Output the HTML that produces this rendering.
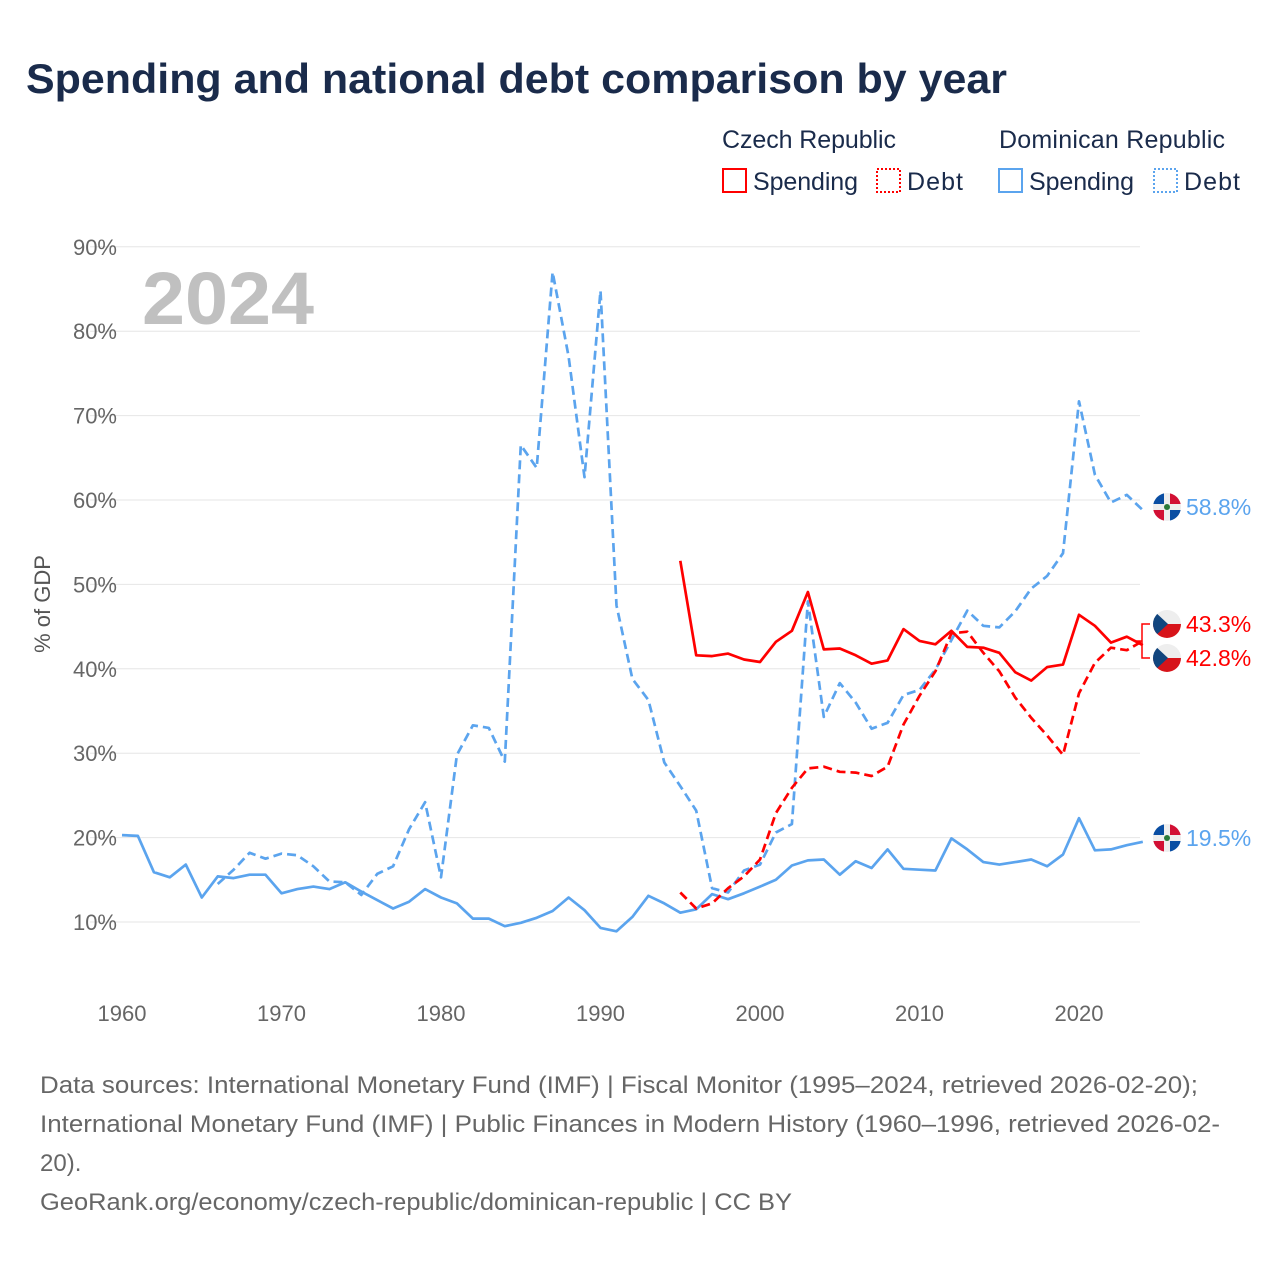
<!DOCTYPE html>
<html><head><meta charset="utf-8"><style>
body{margin:0;background:#fff;font-family:"Liberation Sans",sans-serif}
#wrap{position:relative;width:1280px;height:1280px;overflow:hidden}
</style></head><body>
<div id="wrap">
<svg id="chart" width="1280" height="1280">
<text x="26" y="93" font-size="42" font-weight="bold" fill="#1a2b4b" textLength="981" lengthAdjust="spacingAndGlyphs">Spending and national debt comparison by year</text>
<g font-size="25" fill="#1a2b4b">
<text x="722" y="148" textLength="174">Czech Republic</text>
<text x="999" y="148" textLength="226">Dominican Republic</text>
<g><rect x="723" y="169" width="23" height="23" fill="none" stroke="#f00" stroke-width="2"/><text x="753" y="190" textLength="105">Spending</text></g>
<g><rect x="877" y="169" width="23" height="23" fill="none" stroke="#f00" stroke-width="2" stroke-dasharray="2,2"/><text x="907" y="190" textLength="56">Debt</text></g>
<g><rect x="999" y="169" width="23" height="23" fill="none" stroke="#5ba4ee" stroke-width="2"/><text x="1029" y="190" textLength="105">Spending</text></g>
<g><rect x="1154" y="169" width="23" height="23" fill="none" stroke="#5ba4ee" stroke-width="2" stroke-dasharray="2,2"/><text x="1184" y="190" textLength="56">Debt</text></g>
</g>
<text x="142" y="324" font-size="74" font-weight="bold" fill="#c0c0c0" textLength="172" lengthAdjust="spacingAndGlyphs">2024</text>
<text transform="translate(50,604) rotate(-90)" text-anchor="middle" font-size="22" fill="#555">% of GDP</text>
<g id="grid"></g><g id="series"></g><g id="labels"></g>
<g font-size="24" fill="#666">
<text x="40" y="1093" textLength="1158" lengthAdjust="spacingAndGlyphs">Data sources: International Monetary Fund (IMF) | Fiscal Monitor (1995–2024, retrieved 2026-02-20);</text>
<text x="40" y="1132" textLength="1180" lengthAdjust="spacingAndGlyphs">International Monetary Fund (IMF) | Public Finances in Modern History (1960–1996, retrieved 2026-02-</text>
<text x="40" y="1171">20).</text>
<text x="40" y="1210" textLength="752" lengthAdjust="spacingAndGlyphs">GeoRank.org/economy/czech-republic/dominican-republic | CC BY</text>
</g>
</svg></div>
<script>
const yTicks=[10,20,30,40,50,60,70,80,90];
const xTicks=[1960,1970,1980,1990,2000,2010,2020];
const drSpendStart=1960;
const drSpend=[20.3,20.2,15.9,15.3,16.8,12.9,15.4,15.2,15.6,15.6,13.4,13.9,14.2,13.9,14.7,13.6,12.6,11.6,12.4,13.9,12.9,12.2,10.4,10.4,9.5,9.9,10.5,11.3,12.9,11.4,9.3,8.9,10.6,13.1,12.2,11.1,11.5,13.3,12.7,13.4,14.2,15.0,16.7,17.3,17.4,15.6,17.2,16.4,18.6,16.3,16.2,16.1,19.9,18.6,17.1,16.8,17.1,17.4,16.6,18.0,22.3,18.5,18.6,19.1,19.5];
const drDebtStart=1966;
const drDebt=[14.5,16.2,18.2,17.5,18.1,17.9,16.6,14.8,14.7,13.2,15.7,16.6,21.0,24.2,15.3,29.8,33.3,33.0,29.0,66.5,63.8,87.0,77.0,62.7,84.8,47.5,38.8,36.3,28.9,26.1,23.2,14.0,13.5,16.1,16.8,20.6,21.6,48.0,34.3,38.3,36.0,32.9,33.6,36.9,37.5,39.9,43.4,46.9,45.1,44.9,46.8,49.5,51.0,53.7,71.7,63.0,59.7,60.6,58.8];
const czStart=1995;
const czSpend=[52.8,41.6,41.5,41.8,41.1,40.8,43.2,44.5,49.1,42.3,42.4,41.6,40.6,41.0,44.7,43.3,42.9,44.5,42.6,42.5,41.9,39.6,38.6,40.2,40.5,46.4,45.1,43.1,43.8,42.8];
const czDebt=[13.5,11.6,12.2,14.0,15.4,17.4,22.9,25.9,28.2,28.4,27.8,27.7,27.3,28.4,33.4,36.8,39.7,44.2,44.4,41.9,39.7,36.6,34.2,32.1,29.8,37.1,40.7,42.5,42.2,43.3];
const NS='http://www.w3.org/2000/svg';
const X=yr=>122+(yr-1960)*(957/60);
const Y=v=>922-(v-10)*8.44;
function mk(tag,attrs,parent){const e=document.createElementNS(NS,tag);for(const k in attrs)e.setAttribute(k,attrs[k]);parent.appendChild(e);return e;}
const grid=document.getElementById('grid');
yTicks.forEach(t=>{
 const l=mk('line',{x1:90,x2:1140,y1:Y(t),y2:Y(t),stroke:'#e6e6e6','stroke-width':1},grid);
 
 
 const tx=mk('text',{x:117,y:Y(t)+8,'text-anchor':'end','font-size':22,fill:'#666'},grid);
 tx.textContent=t+'%';
 
 
});
xTicks.forEach(t=>{
 const tx=mk('text',{x:X(t),y:1021,'text-anchor':'middle','font-size':22,fill:'#666'},grid);
 tx.textContent=t;
 
 
});
const ser=document.getElementById('series');
function line(vals,start,color,dash,name){
 const d=vals.map((v,i)=>(i?'L':'M')+X(start+i).toFixed(1)+' '+Y(v).toFixed(1)).join(' ');
 const p=mk('path',{d:d,fill:'none',stroke:color,'stroke-width':2.7,'stroke-linejoin':'round'},ser);
 if(dash)p.setAttribute('stroke-dasharray','9,5');
 
 
}
line(drSpend,drSpendStart,'#5ba4ee',false,'dr-spending-line');
line(drDebt,drDebtStart,'#5ba4ee',true,'dr-debt-line');
line(czSpend,czStart,'#f00',false,'cz-spending-line');
line(czDebt,czStart,'#f00',true,'cz-debt-line');
const lab=document.getElementById('labels');
mk('path',{d:'M1150 624 H1142 V658 H1150 M1142 641 H1136',fill:'none',stroke:'#f00','stroke-width':1.5},lab);
function flag(cy,type,val,color,name){
 const g=mk('g',{},lab);
 
 
 const cx=1167;
 const cp='cp'+name;
 const c=mk('clipPath',{id:cp},g);mk('circle',{cx:cx,cy:cy,r:14},c);
 const f=mk('g',{'clip-path':'url(#'+cp+')'},g);
 if(type==='cz'){
  mk('rect',{x:cx-14,y:cy-14,width:28,height:14,fill:'#eee'},f);
  mk('rect',{x:cx-14,y:cy,width:28,height:14,fill:'#d7141a'},f);
  mk('path',{d:`M${cx-14} ${cy-14} L${cx+1} ${cy} L${cx-14} ${cy+14}Z`,fill:'#11457e'},f);
 }else{
  mk('rect',{x:cx-14,y:cy-14,width:28,height:28,fill:'#eee'},f);
  mk('rect',{x:cx-14,y:cy-14,width:11,height:11,fill:'#0a4ea3'},f);
  mk('rect',{x:cx+3,y:cy-14,width:11,height:11,fill:'#d21034'},f);
  mk('rect',{x:cx-14,y:cy+3,width:11,height:11,fill:'#d21034'},f);
  mk('rect',{x:cx+3,y:cy+3,width:11,height:11,fill:'#0a4ea3'},f);
  mk('circle',{cx:cx,cy:cy,r:3,fill:'#2a7a3a'},f);
 }
 const t=mk('text',{x:1186,y:cy+8,'font-size':23,fill:color},g);
 t.textContent=val.toFixed(1)+'%';
}
flag(507,'dr',drDebt[drDebt.length-1],'#5ba4ee','label-dr-debt');
flag(624,'cz',czDebt[czDebt.length-1],'#f00','label-cz-debt');
flag(658,'cz',czSpend[czSpend.length-1],'#f00','label-cz-spending');
flag(838,'dr',drSpend[drSpend.length-1],'#5ba4ee','label-dr-spending');
</script>
</body></html>
